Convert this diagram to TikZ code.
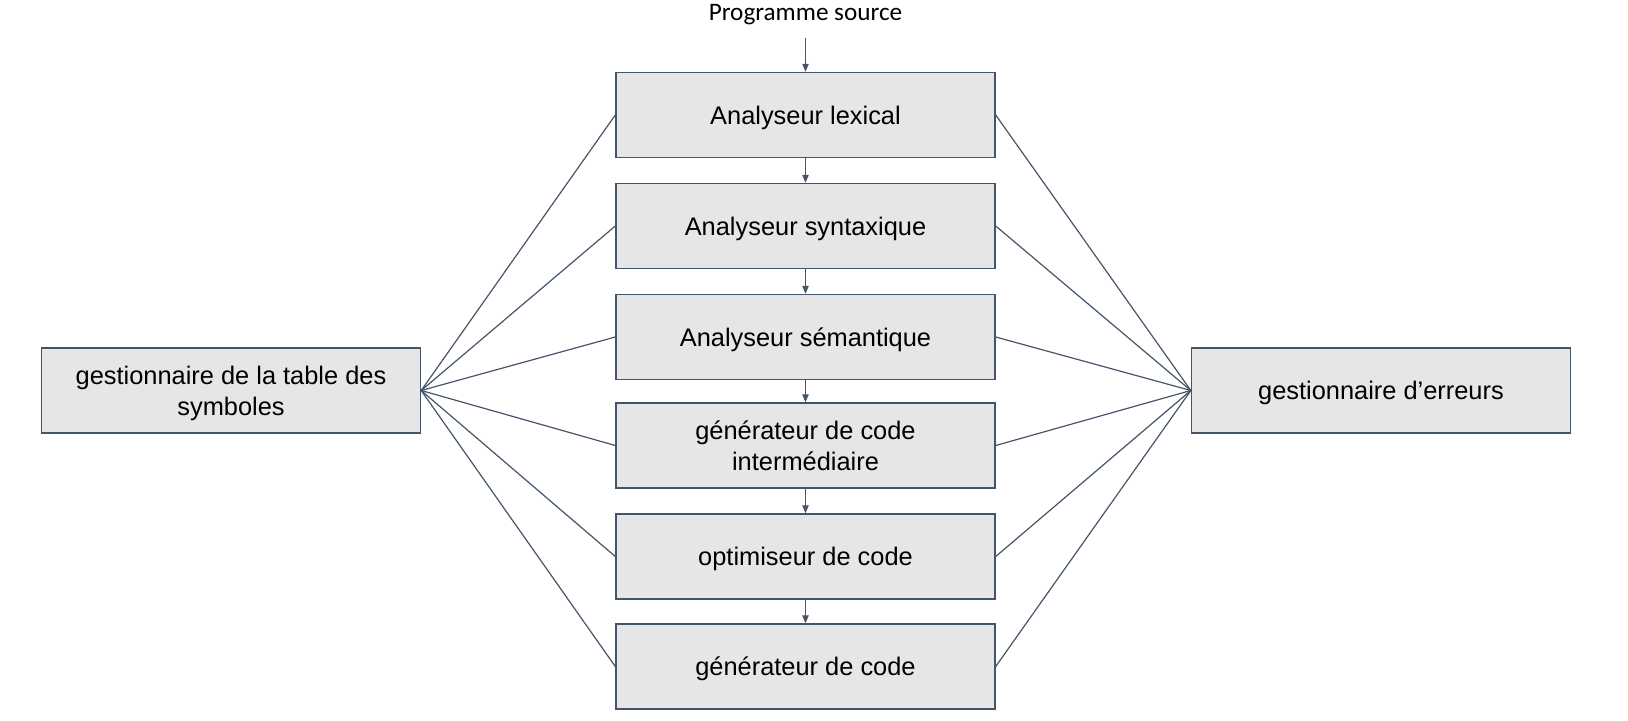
\documentclass[tikz,border=0pt]{standalone}
\usepackage{fontspec}
\setmainfont{Liberation Sans}
\newfontfamily\calfont{Carlito}
\usetikzlibrary{arrows.meta}
\definecolor{edgec}{HTML}{44546A}
\definecolor{boxfill}{HTML}{E7E6E6}
\tikzset{
  stage/.style={draw=edgec, fill=boxfill, line width=0.7pt, minimum width=189.5pt, minimum height=42.5pt,
    inner sep=2pt, align=center, text depth=0pt, font=\fontsize{12.7}{15.5}\selectfont},
  arr/.style={draw=edgec, line width=0.65pt, -{Triangle[length=4pt,width=3.2pt]}},
  link/.style={draw=edgec, line width=0.6pt}
}
\begin{document}
\begin{tikzpicture}[x=0.5pt,y=-0.5pt]
\useasboundingbox (0,0) rectangle (1628,721);
\node[anchor=base, inner sep=0pt, font=\calfont\fontsize{12.6}{15}\selectfont] (src) at (805.5,21) {Programme source};
\node[stage] (lex) at (805.5,115) {Analyseur lexical};
\node[stage] (syn) at (805.5,226) {Analyseur syntaxique};
\node[stage] (sem) at (805.5,337) {Analyseur sémantique};
\node[stage] (gci) at (805.5,445.5) {générateur de code\\intermédiaire};
\node[stage] (opt) at (805.5,556.5) {optimiseur de code};
\node[stage] (gen) at (805.5,666.5) {générateur de code};
\node[stage] (sym) at (231,390.5) {gestionnaire de la table des\\symboles};
\node[stage] (err) at (1381,390.5) {gestionnaire d’erreurs};
\draw[arr, shorten <=6pt] (src.south) -- (lex.north);
\draw[arr] (lex) -- (syn);
\draw[arr] (syn) -- (sem);
\draw[arr] (sem) -- (gci);
\draw[arr] (gci) -- (opt);
\draw[arr] (opt) -- (gen);
\foreach \n in {lex,syn,sem,gci,opt,gen}{
  \draw[link] (sym.east) -- (\n.west);
  \draw[link] (err.west) -- (\n.east);
}
\end{tikzpicture}
\end{document}
